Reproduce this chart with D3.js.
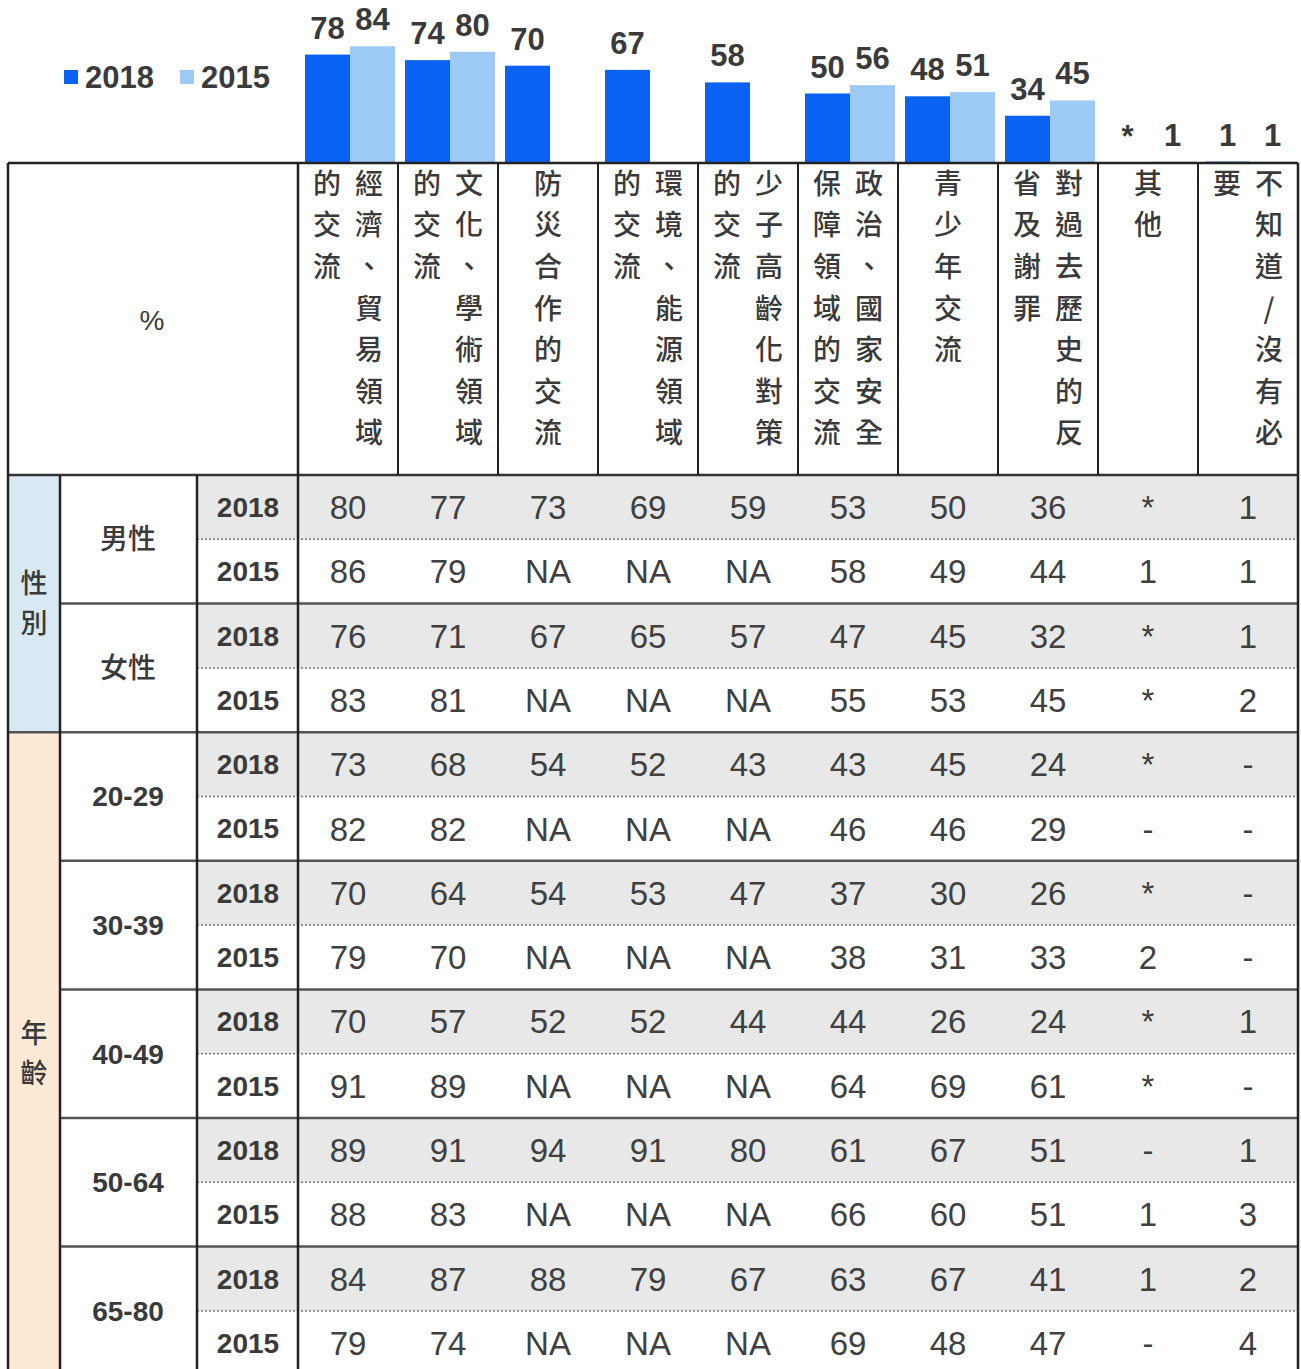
<!DOCTYPE html>
<html>
<head>
<meta charset="utf-8">
<script src="https://cdn.jsdelivr.net/npm/d3@7"></script>
<style>
  body { margin: 0; background: #fff; }
  svg { display: block; }
</style>
</head>
<body>
<div id="chart"></div>
<script>
// ---- data ----
var categories = [
  "經濟、貿易領域的交流", "文化、學術領域的交流", "防災合作的交流",
  "環境、能源領域的交流", "少子高齡化對策的交流", "政治、國家安全保障領域的交流",
  "青少年交流", "對過去歷史的反省及謝罪", "其他", "不知道/沒有必要"
];
var years = ["2018", "2015"];
// overall bars (null = not asked)
var total2018 = [78, 74, 70, 67, 58, 50, 48, 34, 0, 1];
var total2015 = [84, 80, null, null, null, 56, 51, 45, 1, 1];
var totalLabels2018 = ["78", "74", "70", "67", "58", "50", "48", "34", "*", "1"];
var totalLabels2015 = ["84", "80", "", "", "", "56", "51", "45", "1", "1"];

var groups = ["性別", "年齡"];
var subgroups = ["男性", "女性", "20-29", "30-39", "40-49", "50-64", "65-80"];
var subgroupOf = [0, 0, 1, 1, 1, 1, 1];

var male2018   = ["80", "77", "73", "69", "59", "53", "50", "36", "*", "1"];
var male2015   = ["86", "79", "NA", "NA", "NA", "58", "49", "44", "1", "1"];
var female2018 = ["76", "71", "67", "65", "57", "47", "45", "32", "*", "1"];
var female2015 = ["83", "81", "NA", "NA", "NA", "55", "53", "45", "*", "2"];
var age20_2018 = ["73", "68", "54", "52", "43", "43", "45", "24", "*", "-"];
var age20_2015 = ["82", "82", "NA", "NA", "NA", "46", "46", "29", "-", "-"];
var age30_2018 = ["70", "64", "54", "53", "47", "37", "30", "26", "*", "-"];
var age30_2015 = ["79", "70", "NA", "NA", "NA", "38", "31", "33", "2", "-"];
var age40_2018 = ["70", "57", "52", "52", "44", "44", "26", "24", "*", "1"];
var age40_2015 = ["91", "89", "NA", "NA", "NA", "64", "69", "61", "*", "-"];
var age50_2018 = ["89", "91", "94", "91", "80", "61", "67", "51", "-", "1"];
var age50_2015 = ["88", "83", "NA", "NA", "NA", "66", "60", "51", "1", "3"];
var age65_2018 = ["84", "87", "88", "79", "67", "63", "67", "41", "1", "2"];
var age65_2015 = ["79", "74", "NA", "NA", "NA", "69", "48", "47", "-", "4"];

var tableRows = [
  male2018, male2015, female2018, female2015,
  age20_2018, age20_2015, age30_2018, age30_2015, age40_2018, age40_2015,
  age50_2018, age50_2015, age65_2018, age65_2015
];

// ---- layout ----
var W = 1301, H = 1369;
var left = 8, right = 1298;
var xGroup = 60, xSub = 197, xYear = 298;
var tableTop = 163, headTop = 475, rowH = 64.3;
var c2018 = "#0a62f2", c2015 = "#9dcbf6";
var cjk = "'Noto Sans CJK TC', 'Noto Sans', sans-serif";
var sans = "'Liberation Sans', Arial, sans-serif";
var narrow = "'Liberation Sans Narrow', 'Liberation Sans', Arial, sans-serif";
var ink = "#3a3a3a";

var svg = d3.select("#chart").append("svg")
  .attr("width", W).attr("height", H);

var x = d3.scaleBand().domain(categories).range([xYear, right]);
var xIn = d3.scaleBand().domain(years).range([7, 97]);
var y = d3.scaleLinear().domain([0, 100]).range([tableTop, tableTop - 139]);
var rowY = d3.scaleBand().domain(d3.range(tableRows.length))
  .range([headTop, headTop + rowH * tableRows.length]);

// ---- legend ----
var legend = svg.append("g").attr("transform", "translate(64,70)");
[{ k: "2018", c: c2018, dx: 0 }, { k: "2015", c: c2015, dx: 116 }].forEach(function(d) {
  legend.append("rect").attr("x", d.dx).attr("y", 0).attr("width", 14).attr("height", 14).attr("fill", d.c);
  legend.append("text").attr("x", d.dx + 21).attr("y", 18)
    .attr("font-family", narrow).attr("font-weight", "bold").attr("font-size", 31)
    .attr("fill", ink).text(d.k);
});

// ---- bars ----
var barData = [];
categories.forEach(function(c, i) {
  barData.push({ cat: c, year: "2018", v: total2018[i], label: totalLabels2018[i] });
  barData.push({ cat: c, year: "2015", v: total2015[i], label: totalLabels2015[i] });
});
var bars = svg.append("g");
bars.selectAll("rect").data(barData.filter(function(d) { return d.v !== null; }))
  .enter().append("rect")
  .attr("x", function(d) { return x(d.cat) + xIn(d.year); })
  .attr("width", xIn.bandwidth())
  .attr("y", function(d) { return y(d.v); })
  .attr("height", function(d) { return y(0) - y(d.v); })
  .attr("fill", function(d) { return d.year === "2018" ? c2018 : c2015; });
bars.selectAll("text").data(barData.filter(function(d) { return d.label !== ""; }))
  .enter().append("text")
  .attr("x", function(d) { return x(d.cat) + xIn(d.year) + xIn.bandwidth() / 2; })
  .attr("y", function(d) { return y(d.v) - 16; })
  .attr("text-anchor", "middle")
  .attr("font-family", narrow).attr("font-weight", "bold").attr("font-size", 31)
  .attr("fill", ink)
  .text(function(d) { return d.label; });

// ---- table backgrounds ----
var bg = svg.append("g");
bg.append("rect").attr("x", left).attr("y", headTop).attr("width", xGroup - left)
  .attr("height", rowY(4) - headTop).attr("fill", "#d8e9f4");
bg.append("rect").attr("x", left).attr("y", rowY(4)).attr("width", xGroup - left)
  .attr("height", H - rowY(4) + 10).attr("fill", "#fde9d4");
bg.selectAll(".grey").data(d3.range(0, tableRows.length, 2)).enter().append("rect")
  .attr("x", xSub).attr("y", function(i) { return rowY(i); })
  .attr("width", right - xSub).attr("height", rowY.bandwidth())
  .attr("fill", "#e8e8e8");

// ---- header text ----
var head = svg.append("g").attr("font-family", cjk).attr("font-size", 28)
  .attr("font-weight", 500).attr("fill", ink);
head.append("text").attr("x", 152).attr("y", 320).attr("dy", "0.35em")
  .attr("text-anchor", "middle").attr("font-family", sans).attr("font-weight", "normal")
  .attr("font-size", 28).text("%");
categories.forEach(function(c) {
  var chars = Array.from(c);
  var cols = chars.length <= 7 ? [{ s: chars, dx: 50 }]
    : [{ s: chars.slice(0, 7), dx: 71 }, { s: chars.slice(7), dx: 29 }];
  cols.forEach(function(col) {
    head.selectAll(null).data(col.s).enter().append("text")
      .attr("x", x(c) + col.dx)
      .attr("y", function(d, j) { return 184 + j * 41.6; })
      .attr("dy", "0.35em")
      .attr("text-anchor", "middle")
      .text(function(d) { return d; });
  });
});

// ---- row labels ----
var lab = svg.append("g").attr("fill", ink);
var groupSpan = [[0, 4], [4, 14]];
groups.forEach(function(g, i) {
  var yc = (rowY(groupSpan[i][0]) + Math.min(rowY(groupSpan[i][1] - 1) + rowH, 1375)) / 2;
  Array.from(g).forEach(function(ch, j) {
    lab.append("text").attr("x", 34).attr("y", yc + (j - 0.5) * 40).attr("dy", "0.35em")
      .attr("text-anchor", "middle").attr("font-family", cjk).attr("font-weight", 500)
      .attr("font-size", 27).text(ch);
  });
});
subgroups.forEach(function(s, i) {
  var isCjk = subgroupOf[i] === 0;
  lab.append("text").attr("x", 128).attr("y", rowY(i * 2) + rowH).attr("dy", "0.35em")
    .attr("text-anchor", "middle")
    .attr("font-family", isCjk ? cjk : sans)
    .attr("font-weight", isCjk ? 500 : "bold")
    .attr("font-size", 28).text(s);
});
tableRows.forEach(function(r, i) {
  lab.append("text").attr("x", 248).attr("y", rowY(i) + rowH / 2).attr("dy", "0.35em")
    .attr("text-anchor", "middle").attr("font-family", sans).attr("font-weight", "bold")
    .attr("font-size", 28).text(years[i % 2]);
});

// ---- cell values ----
var cells = svg.append("g").attr("font-family", sans).attr("font-size", 33).attr("fill", "#404040");
tableRows.forEach(function(r, i) {
  cells.selectAll(null).data(r).enter().append("text")
    .attr("x", function(d, j) { return x(categories[j]) + x.bandwidth() / 2; })
    .attr("y", rowY(i) + rowH / 2)
    .attr("dy", "0.36em")
    .attr("text-anchor", "middle")
    .text(function(d) { return d; });
});

// ---- grid lines ----
var grid = svg.append("g").attr("fill", "none");
function hline(y0, x0, x1, color, w, dash) {
  grid.append("line").attr("x1", x0).attr("x2", x1).attr("y1", y0).attr("y2", y0)
    .attr("stroke", color).attr("stroke-width", w).attr("stroke-dasharray", dash || null);
}
function vline(x0, y0, y1, color, w) {
  grid.append("line").attr("x1", x0).attr("x2", x0).attr("y1", y0).attr("y2", y1)
    .attr("stroke", color).attr("stroke-width", w);
}
d3.range(1, tableRows.length).forEach(function(i) {
  var yy = rowY(i);
  if (i % 2 === 1) hline(yy, xSub, right, "#777", 1.5, "2,2");
  else if (i === 4) hline(yy, left, right, "#555", 2.5);
  else hline(yy, xGroup, right, "#555", 2.5);
});
hline(tableTop, left, right, "#222", 2.5);
hline(headTop, left, right, "#333", 2.5);
var bottom = H + 5;
vline(left, tableTop, bottom, "#222", 2.5);
vline(xGroup, headTop, bottom, "#222", 2.5);
vline(xSub, headTop, bottom, "#222", 2.5);
vline(xYear, tableTop, bottom, "#222", 2.5);
vline(right, tableTop, bottom, "#222", 2.5);
categories.slice(1).forEach(function(c) { vline(x(c), tableTop, headTop, "#222", 2); });
</script>
</body>
</html>
